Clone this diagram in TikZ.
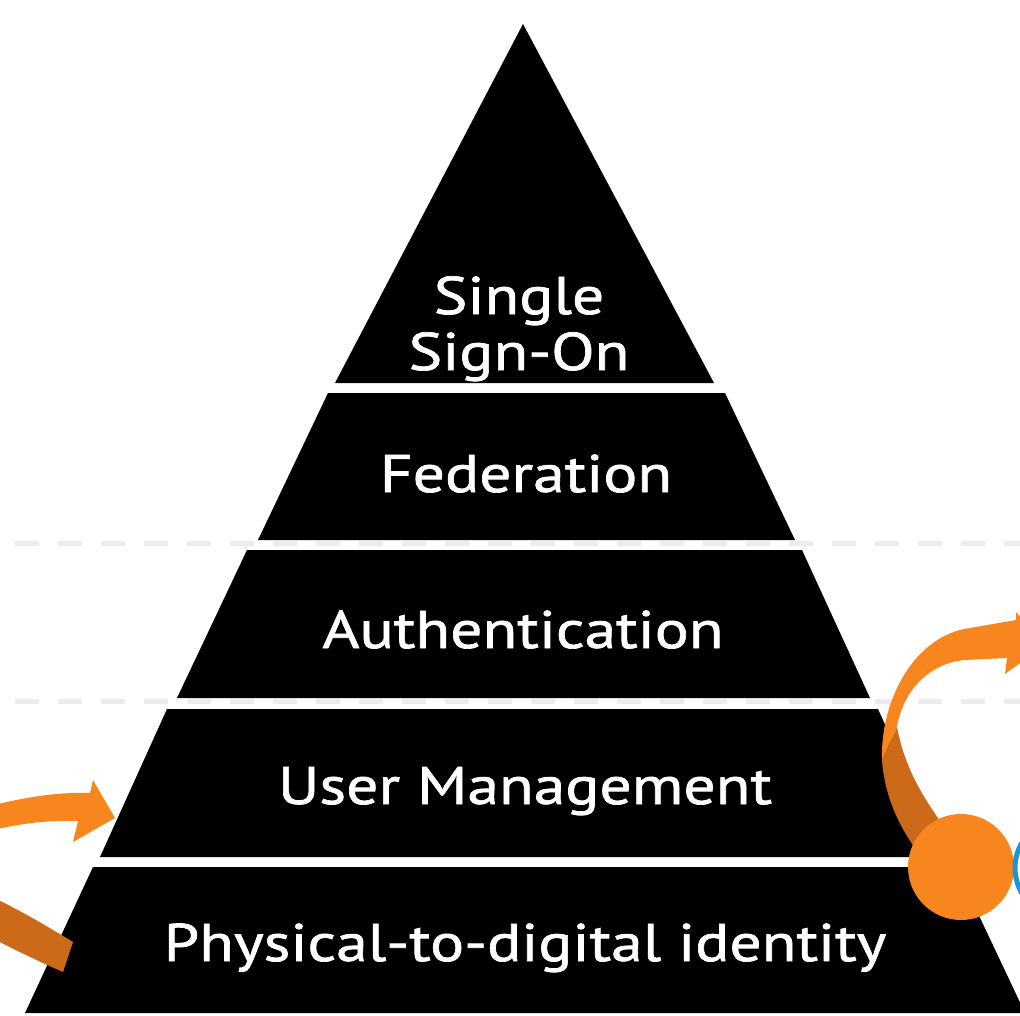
\documentclass[tikz,border=0pt]{standalone}
\usepackage{fontspec}
\setmainfont[FakeStretch=1.2,FakeBold=1.3]{PT Sans}
\usepackage{tikz}
\definecolor{pyrorange}{RGB}{247,134,31}
\definecolor{pyrdarkorange}{RGB}{204,106,26}
\definecolor{pyrblue}{RGB}{26,150,214}
\definecolor{pyrguide}{RGB}{236,236,236}
\tikzstyle{band} = [fill=black]
\tikzstyle{bandtext} = [text=white, anchor=base, inner sep=0pt, align=center, font=\fontsize{53}{56}\selectfont]
\tikzstyle{guide} = [draw=pyrguide, line width=5pt, dash pattern=on 24pt off 19pt]

\begin{document}
\begin{tikzpicture}[x=1pt,y=-1pt]
\useasboundingbox (0,0) rectangle (1020,1015);
\clip (0,0) rectangle (1020,1015);

% Dashed guides behind the pyramid
\draw[guide] (15,543.5) -- (1020,543.5);
\draw[guide] (15,701) -- (1020,701);

% Pyramid bands
\fill[band] (523,24) -- (714,383) -- (335,383) -- cycle;
\fill[band] (328,393) -- (725,393) -- (795,540) -- (258,540) -- cycle;
\fill[band] (247,550) -- (802,550) -- (870,698) -- (177,698) -- cycle;
\fill[band] (167,709) -- (878,709) -- (945,857) -- (100,857) -- cycle;
\fill[band] (93,867) -- (956,867) -- (1025,1013) -- (25,1013) -- cycle;

% Band labels
\node[bandtext] (sso) at (519,370) {Single\\Sign-On};
\node[bandtext] (fed) at (526,492) {Federation};
\node[bandtext] (auth) at (523,648) {Authentication};
\node[bandtext] (usermgmt) at (525,804) {User Management};
\node[bandtext] (p2d) at (525,961) {Physical-to-digital identity};

% Left arrow
\fill[pyrorange] (-10,806) .. controls (30,796) and (60,792) .. (90,793) -- (93,780) -- (115,818)
  -- (73,842) -- (78,821) .. controls (50,820) and (20,823) .. (-10,831) -- cycle;
\fill[pyrdarkorange] (-10,896) .. controls (20,910) and (50,928) .. (73,942) -- (63,972)
  .. controls (40,962) and (15,950) .. (-10,937) -- cycle;

% Right arrow
\fill[pyrdarkorange] (882,760) .. controls (884,790) and (895,820) .. (915,848) -- (945,828)
  .. controls (925,800) and (905,770) .. (897,727) -- cycle;
\fill[pyrorange] (882,760) .. controls (880,700) and (915,635) .. (970,628) -- (1016,620)
  -- (1016,612) -- (1045,645) -- (1005,674) -- (1007,658) -- (965,660)
  .. controls (930,663) and (903,690) .. (897,727) -- cycle;

% Cycle circles
\node[circle, fill=pyrorange, minimum size=106pt, inner sep=0pt] (hub) at (961,867) {};
\node[circle, draw=pyrblue, line width=5pt, minimum size=100pt, inner sep=0pt] (nexthub) at (1065,868) {};
\end{tikzpicture}
\end{document}
